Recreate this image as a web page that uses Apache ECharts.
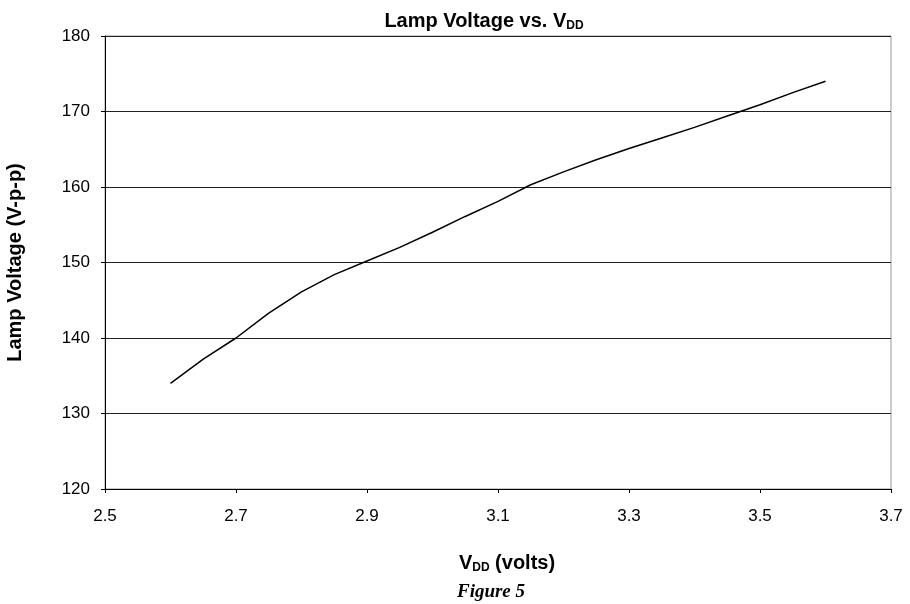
<!DOCTYPE html>
<html><head><meta charset="utf-8">
<script src="https://cdn.jsdelivr.net/npm/echarts@6/dist/echarts.min.js"></script>
<style>html,body{margin:0;padding:0;background:#fff}#c{width:910px;height:604px}</style>
</head><body><div id="c"></div>
<script>
var vdd = [2.6, 2.65, 2.7, 2.75, 2.8, 2.85, 2.9, 2.95, 3.0, 3.05, 3.1, 3.15, 3.2, 3.25, 3.3, 3.35, 3.4, 3.45, 3.5, 3.55, 3.6];
var lampV = [134, 137.2, 140, 143.3, 146.1, 148.4, 150.2, 152, 154, 156.1, 158.1, 160.3, 162, 163.6, 165.1, 166.5, 167.9, 169.4, 170.9, 172.5, 174];
var xTicks = [2.5, 2.7, 2.9, 3.1, 3.3, 3.5, 3.7];
var yTicks = [120, 130, 140, 150, 160, 170, 180];

var chart = echarts.init(document.getElementById('c'), null, {renderer: 'canvas'});
var pts = vdd.map(function (v, i) { return [v, lampV[i]]; });
var font = 'Liberation Sans, Arial, sans-serif';
chart.setOption({
  animation: false,
  backgroundColor: '#fff',
  title: [{
    text: 'Lamp Voltage vs. V{sub|DD}',
    left: 479, top: 6, textAlign: 'center',
    textStyle: {
      fontFamily: font, fontWeight: 'bold', fontSize: 20, color: '#000',
      rich: { sub: { fontFamily: font, fontWeight: 'bold', fontSize: 12, color: '#000', verticalAlign: 'bottom', padding: [9, 0, 0, 0] } }
    }
  }, {
    text: 'V{sub|DD} (volts)',
    left: 502, top: 548, textAlign: 'center',
    textStyle: {
      fontFamily: font, fontWeight: 'bold', fontSize: 20, color: '#000',
      rich: { sub: { fontFamily: font, fontWeight: 'bold', fontSize: 12, color: '#000', verticalAlign: 'bottom', padding: [9, 0, 0, 0] } }
    }
  }, {
    text: 'Figure 5',
    left: 486, top: 578, textAlign: 'center',
    textStyle: { fontFamily: 'Liberation Serif, Times New Roman, serif', fontWeight: 'bold', fontStyle: 'italic', fontSize: 19, color: '#000' }
  }],
  grid: { left: 105, right: 19, top: 36, bottom: 115, show: true, borderColor: '#999', borderWidth: 1, outerBoundsMode: 'none', containLabel: false },
  xAxis: {
    type: 'value', min: xTicks[0], max: xTicks[xTicks.length - 1], interval: 0.2,
    axisLine: { show: true, lineStyle: { color: '#000', width: 1 } },
    axisTick: { show: true, length: 4, lineStyle: { color: '#000' } },
    splitLine: { show: false },
    axisLabel: { fontFamily: font, fontSize: 17, color: '#000', margin: 19, formatter: function (v) { return v.toFixed(1); } }
  },
  yAxis: {
    type: 'value', min: yTicks[0], max: yTicks[yTicks.length - 1], interval: 10,
    name: 'Lamp Voltage (V-p-p)', nameLocation: 'middle', nameGap: 80, nameRotate: 90,
    nameTextStyle: { fontFamily: font, fontWeight: 'bold', fontSize: 20, color: '#000' },
    axisLine: { show: true, lineStyle: { color: '#000', width: 1 } },
    axisTick: { show: true, length: 4, lineStyle: { color: '#000' } },
    splitLine: { show: true, lineStyle: { color: '#222', width: 1 } },
    axisLabel: { fontFamily: font, fontSize: 17, color: '#000', margin: 15 }
  },
  series: [{
    type: 'line', data: pts, showSymbol: false, smooth: false,
    lineStyle: { color: '#000', width: 1.5 }
  }]
});
</script></body></html>
